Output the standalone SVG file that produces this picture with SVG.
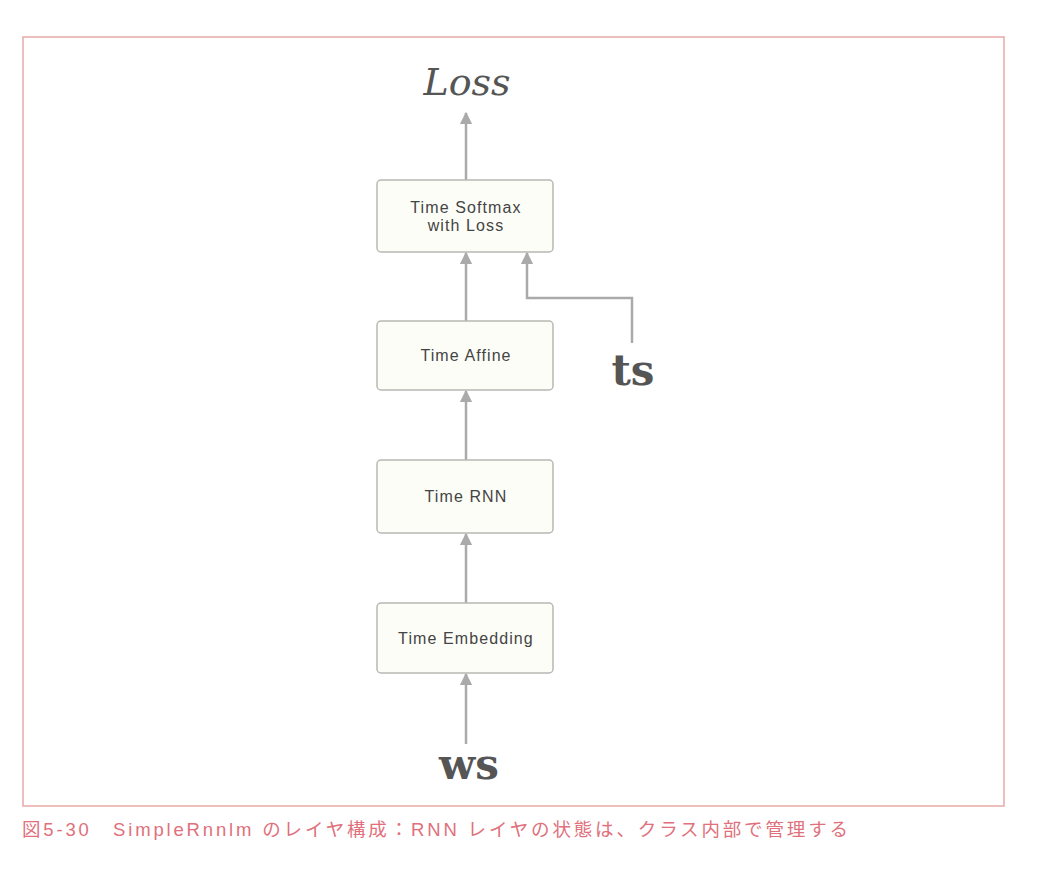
<svg xmlns="http://www.w3.org/2000/svg" width="1042" height="877" viewBox="0 0 1042 877">
<style>
.node rect{fill:#fdfdf7;stroke:#b8b8b4;stroke-width:1.5}
.node text{font-family:"Liberation Sans",Arial,sans-serif;font-size:16px;letter-spacing:1.1px;fill:#444;text-anchor:middle}
.conn{stroke:#aaaaaa;stroke-width:2.5;fill:none;marker-end:url(#ah)}
.var{font-family:"DejaVu Serif","Liberation Serif",serif;font-weight:bold;font-size:42px;fill:#555;text-anchor:middle}
</style>
<defs>
<marker id="ah" viewBox="0 0 10 10" refX="9" refY="5" markerWidth="5" markerHeight="5" orient="auto" markerUnits="strokeWidth">
<path d="M0,0 L10,5 L0,10 z" fill="#aaaaaa"/>
</marker>
</defs>
<rect x="0" y="0" width="1042" height="877" fill="#ffffff"/>
<rect x="23" y="37" width="981" height="769" fill="none" stroke="#e6a9a6" stroke-width="1.5"/>
<g id="connectors">
<line class="conn" x1="466" y1="180" x2="466" y2="113"/>
<line class="conn" x1="466" y1="321" x2="466" y2="253"/>
<polyline class="conn" points="632,343 632,298 527,298 527,253"/>
<line class="conn" x1="466" y1="460" x2="466" y2="391"/>
<line class="conn" x1="466" y1="603" x2="466" y2="534"/>
<line class="conn" x1="466" y1="744" x2="466" y2="674"/>
</g>
<g id="loss"><text x="467" y="95" font-family="'DejaVu Serif','Liberation Serif',serif" font-style="italic" font-size="38" fill="#555" text-anchor="middle">Loss</text></g>
<g id="softmax" class="node"><rect x="377" y="180" width="176" height="72" rx="4"/><text x="466" y="213">Time Softmax</text><text x="466" y="231">with Loss</text></g>
<g id="affine" class="node"><rect x="377" y="321" width="176" height="69" rx="4"/><text x="466" y="361">Time Affine</text></g>
<g id="rnn" class="node"><rect x="377" y="460" width="176" height="73" rx="4"/><text x="466" y="502">Time RNN</text></g>
<g id="embedding" class="node"><rect x="377" y="603" width="176" height="70" rx="4"/><text x="466" y="644">Time Embedding</text></g>
<g id="ts"><text class="var" x="633" y="385">ts</text></g>
<g id="ws"><text class="var" x="469" y="779">ws</text></g>
<text x="22" y="836" textLength="826" lengthAdjust="spacing" font-family="'Liberation Sans','Noto Sans CJK JP',sans-serif" font-size="18.5" fill="#e0707c">図5-30　SimpleRnnlm のレイヤ構成：RNN レイヤの状態は、クラス内部で管理する</text>
</svg>
